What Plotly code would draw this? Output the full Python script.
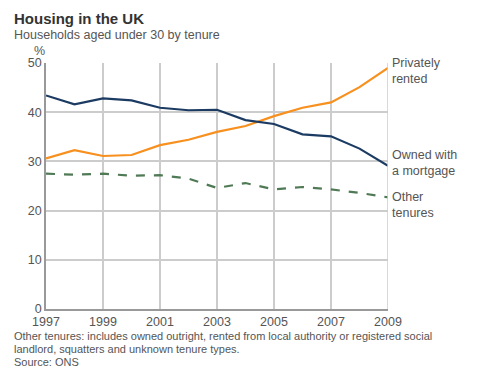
import plotly.graph_objects as go

years = list(range(1997, 2010))
owned_mortgage = [43.4, 41.6, 42.8, 42.4, 40.9, 40.4, 40.5, 38.4, 37.6, 35.5, 35.1, 32.6, 29.1]
privately_rented = [30.6, 32.3, 31.1, 31.3, 33.3, 34.4, 36.0, 37.2, 39.2, 40.9, 42.0, 45.1, 49.0]
other_tenures = [27.5, 27.3, 27.5, 27.1, 27.2, 26.5, 24.6, 25.6, 24.3, 24.8, 24.3, 23.6, 22.7]
x_ticks = [1997, 1999, 2001, 2003, 2005, 2007, 2009]
y_ticks = [0, 10, 20, 30, 40, 50]

FONT = "Liberation Sans, Arial, sans-serif"
TXT = "#555555"

# page body has an 8px margin; compensate
OFF = 8
W, H = 477 - OFF, 378 - OFF
PL, PR, PT, PB = 46 - OFF, 388 - OFF, 63 - OFF, 309 - OFF  # plot box in figure px


def px(x):
    return (x - OFF - PL) / (PR - PL)


def py(y):
    return (PB - (y - OFF)) / (PB - PT)


fig = go.Figure()
fig.add_trace(go.Scatter(x=years, y=other_tenures, mode="lines",
                         line=dict(color="#4f7a55", width=2.2, dash="dash")))
fig.add_trace(go.Scatter(x=years, y=privately_rented, mode="lines",
                         line=dict(color="#f7901e", width=2.2)))
fig.add_trace(go.Scatter(x=years, y=owned_mortgage, mode="lines",
                         line=dict(color="#1c3b63", width=2.2)))

fig.update_layout(
    width=W, height=H,
    margin=dict(l=PL, r=W - PR, t=PT, b=H - PB),
    paper_bgcolor="white", plot_bgcolor="white",
    showlegend=False,
    font=dict(family=FONT, color=TXT, size=12),
    xaxis=dict(range=[1997, 2009], tickvals=x_ticks, showgrid=True,
               gridcolor="#cccccc", gridwidth=1.5, zeroline=False,
               showline=True, linecolor="#999999", linewidth=1.5,
               ticks="", tickfont=dict(size=12.5, color=TXT)),
    yaxis=dict(range=[0, 50], tickvals=y_ticks, showgrid=True,
               gridcolor="#cccccc", gridwidth=1.5, zeroline=False,
               showline=True, linecolor="#999999", linewidth=1.5,
               ticks="", tickfont=dict(size=12.5, color=TXT)),
)

fig.add_shape(type="line", xref="x", yref="paper", x0=2009, x1=2009, y0=0, y1=1,
              line=dict(color="#cccccc", width=1.5))

anns = [
    dict(text="<b>Housing in the UK</b>", x=12, y=18, size=15, color="#333333"),
    dict(text="Households aged under 30 by tenure", x=12, y=35, size=12.5, color=TXT),
    dict(text="%", x=32, y=51, size=12.5, color=TXT),
    dict(text="Other tenures: includes owned outright, rented from local authority or registered social", x=12, y=336, size=11, color=TXT),
    dict(text="landlord, squatters and unknown tenure types.", x=12, y=349, size=11, color=TXT),
    dict(text="Source: ONS", x=12, y=362, size=11, color=TXT),
]
for a in anns:
    fig.add_annotation(text=a["text"], xref="paper", yref="paper",
                       x=px(a["x"]), y=py(a["y"]),
                       xanchor="left", yanchor="middle", showarrow=False,
                       font=dict(size=a["size"], color=a["color"], family=FONT))

labels = [("Privately<br>rented", 71), ("Owned with<br>a mortgage", 163), ("Other<br>tenures", 205)]
for t, yy in labels:
    fig.add_annotation(text=t, xref="paper", yref="paper", x=px(390),
                       y=py(yy), xanchor="left", yanchor="middle",
                       align="left", showarrow=False,
                       font=dict(size=12.5, color=TXT, family=FONT))

fig.write_html("out.html")
